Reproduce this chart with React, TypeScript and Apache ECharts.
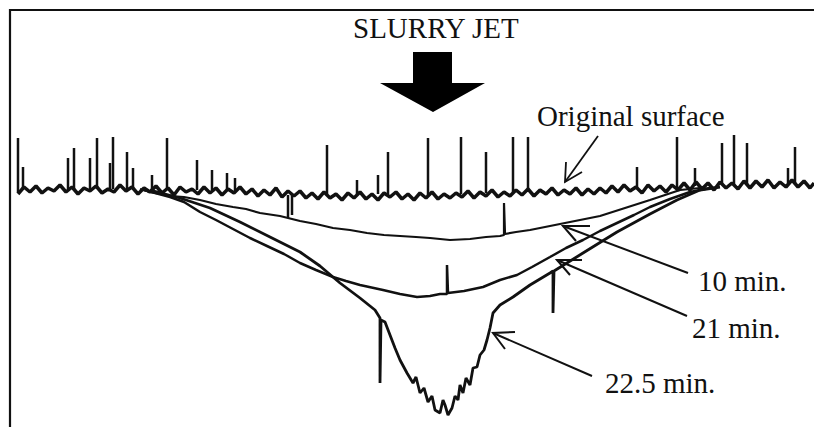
import React, { useEffect, useRef } from "react";
import * as echarts from "echarts";

// x = lateral position (arbitrary units), d = depth below original surface (negative = above)
const surfaceProfile: [number, number][] = [
  [9, 9], [12, 2], [15, 7], [18, 1], [21, 8], [24, 3], [27, 6], [30, 0], [33, 7], [36, 2], [39, 9], [42, 3], [45, 6], [48, 1], [51, 8], [54, 4], [57, 7], [60, 0], [63, 6], [66, 2], [69, 9], [72, 3], [75, 7],
  [78, 1], [81, 8], [84, 3], [87, 10], [90, 2], [93, 7], [96, 4], [99, 9], [102, 2], [105, 8], [108, 3], [111, 10], [114, 4], [117, 8], [120, 2], [123, 9],
  [126, 4], [129, 11], [132, 5], [135, 10], [138, 3], [141, 12], [144, 6], [147, 11],
  [150, 6], [153, 13], [156, 8], [159, 14], [162, 7], [165, 13], [168, 9], [171, 15], [174, 8], [177, 13], [180, 7], [183, 14], [186, 9], [189, 15], [192, 8], [195, 12], [198, 7], [201, 14], [204, 9], [207, 15], [210, 8], [213, 13], [216, 7], [219, 14], [222, 9], [225, 13], [228, 8],
  [231, 12], [234, 6], [237, 13], [240, 7], [243, 11], [246, 5], [249, 12], [252, 7], [255, 11], [258, 5],
  [261, 10], [264, 4], [267, 11], [270, 5], [273, 9], [276, 3], [279, 10], [282, 5], [285, 9], [288, 3], [291, 10], [294, 4], [297, 9], [300, 3],
  [303, 8], [306, 1], [309, 7], [312, 0], [315, 6], [318, 2], [321, 8], [324, 0], [327, 6], [330, 1], [333, 7], [336, 0], [339, 5],
  [342, -2], [345, 5], [348, -3], [351, 4], [354, -2], [357, 5], [360, -3], [363, 3], [366, -2], [369, 4],
  [372, -4], [375, 3], [378, -4], [381, 2], [384, -5], [387, 3], [390, -3], [393, 2], [396, -5], [399, 2], [402, -4], [405, 3], [407, -2]
];

// spikes on the original surface: [x, base depth, tip depth]
const surfaceSpikes: [number, number, number][] = [
  [9, 8, -47], [11.5, 4, -18], [34, 4, -27], [37, 4, -37], [45, 4, -27], [48.5, 4, -47], [55, 4, -22], [56.5, 4, -48],
  [63.5, 4, -33], [66.5, 4, -17], [76, 5, -10], [83.5, 5, -47], [98.5, 5, -25], [106, 5, -15], [113.5, 5, -12],
  [117.5, 6, -7], [144, 10, 33], [146, 10, 30], [163.5, 9, -40], [178.5, 9, -5], [189, 9, -10], [194, 9, -33],
  [214, 10, -47], [230.5, 9, -48], [243, 8, -33], [256.5, 7, -48], [264, 7, -48], [318.5, 4, -18], [338.5, 3, -48],
  [347.5, 1, -17], [361, 0, -42], [367, 0, -50], [373.5, 0, -42], [394, -1, -17], [397.5, -1, -38]
];

const profile10min: [number, number][] = [
  [70, 4], [75, 7], [85, 11], [92, 12], [100, 15], [108, 19], [116.5, 22], [123, 24], [130, 28], [140, 31], [150, 36],
  [158, 39], [166.5, 43], [175, 45], [183.5, 48], [192, 50], [200, 51], [208, 52], [215, 53], [225, 55],
  [235, 54], [243, 52], [250, 51], [252, 50], [252, 18], [252.5, 49], [258, 47], [265, 45], [275, 41],
  [287.5, 36], [300, 31], [312.5, 23], [325, 15], [332.5, 10], [340, 5], [350, 3]
];

const profile21min: [number, number][] = [
  [72, 5], [85, 12], [92, 17], [100, 27], [108, 35], [116.5, 44], [125, 53], [133.5, 61], [142, 69], [150, 78],
  [158, 85], [166.5, 92], [173, 96], [180, 100], [191.5, 105], [200, 109], [208.5, 112], [215, 111], [220, 109],
  [223.5, 109], [223.5, 80], [224, 108], [232, 106], [241.5, 102], [250, 95], [258.5, 90], [266, 82], [275, 72],
  [283, 63], [291.5, 55], [300, 46], [308.5, 38], [317, 30], [325, 22], [335, 14], [345, 7], [355, 3]
];

const profile22_5min: [number, number][] = [
  [75, 5], [90, 13], [105, 23], [120, 37], [135, 52], [150, 67], [160, 81], [170, 98], [180, 113], [187.5, 125],
  [190, 133], [190, 198], [190.5, 135], [192.5, 137], [195, 150], [197.5, 163], [200, 175], [203.5, 188],
  [206.5, 198], [208, 192], [210, 208], [212, 203], [214, 217], [216, 211], [217.5, 225], [220, 228],
  [221.5, 215], [222.5, 220], [224, 230], [226, 223], [227.5, 211], [229, 215], [230, 200], [231.5, 208],
  [233, 193], [235, 200], [236.5, 183], [238.5, 182], [240, 170], [242, 165], [243.5, 155], [245, 143],
  [246.5, 128], [250, 120], [256.5, 112], [265, 100], [275, 88], [276.5, 86], [276.5, 128], [277, 86],
  [291.5, 68], [308.5, 47], [325, 29], [338.5, 15], [350, 5], [360, 2]
];

const titleText = "SLURRY JET";
const surfaceLabel = "Original surface";
const timeLabels = ["10 min.", "21 min.", "22.5 min."];

export default function App() {
  const ref = useRef<HTMLDivElement>(null);
  useEffect(() => {
    document.documentElement.style.overflow = "hidden";
    document.body.style.margin = "0";
    document.body.style.overflow = "hidden";
    const chart = echarts.init(ref.current!, null, { renderer: "svg" });
    const txt = (text: string, x: number, y: number) => ({
      type: "text",
      x,
      y,
      style: { text, fontFamily: "Liberation Serif", fontSize: 29, fill: "#111" },
    });
    const pl = (points: number[][], w = 2) => ({
      type: "polyline",
      shape: { points },
      style: { stroke: "#111", lineWidth: w, fill: null },
    });
    const prof = (data: [number, number][], width: number) => ({
      type: "line",
      data,
      showSymbol: false,
      symbol: "none",
      lineStyle: { color: "#111", width },
    });
    chart.setOption({
      animation: false,
      backgroundColor: "#fff",
      grid: { left: 0, right: 0, top: 0, bottom: 0 },
      xAxis: { type: "value", min: 0, max: 407, show: false },
      yAxis: { type: "value", min: -185, max: 242, inverse: true, show: false },
      series: [
        prof(surfaceProfile, 3.5),
        {
          type: "custom",
          data: surfaceSpikes,
          renderItem: (_p: any, api: any) => {
            const a = api.coord([api.value(0), api.value(1)]);
            const b = api.coord([api.value(0), api.value(2)]);
            return {
              type: "line",
              shape: { x1: a[0], y1: a[1], x2: b[0], y2: b[1] },
              style: { stroke: "#111", lineWidth: 2.5 },
            };
          },
        },
        prof(profile10min, 2.2),
        prof(profile21min, 2.5),
        prof(profile22_5min, 2.8),
      ],
      graphic: [
        pl([[10, 427], [10, 10], [814, 10]], 2.2),
        {
          type: "polygon",
          shape: {
            points: [[413, 52], [452, 52], [452, 83], [485, 83], [433, 112], [380, 83], [413, 83]],
          },
          style: { fill: "#000" },
        },
        txt(titleText, 353, 13),
        txt(surfaceLabel, 537, 101),
        pl([[598, 136], [565, 182]], 1.8),
        pl([[566, 162], [565, 182], [582, 172]], 1.8),
        pl([[688, 273], [563, 226]]),
        pl([[590, 226], [563, 226], [576, 241]]),
        txt(timeLabels[0], 698, 266),
        pl([[687, 316], [557, 260]]),
        pl([[582, 260], [557, 260], [570, 275]]),
        txt(timeLabels[1], 692, 313),
        pl([[592, 376], [493, 333]]),
        pl([[515, 332], [493, 333], [505, 349]]),
        txt(timeLabels[2], 605, 368),
      ],
    });
    return () => chart.dispose();
  }, []);
  return <div ref={ref} style={{ width: 814, height: 427 }} />;
}
